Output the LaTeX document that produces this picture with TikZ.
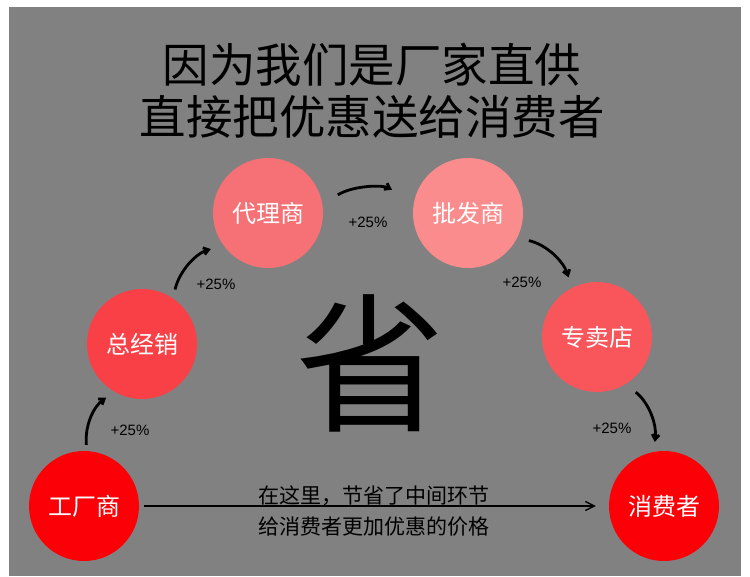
\documentclass[tikz,border=0pt]{standalone}
\usepackage{fontspec}
\newfontfamily\cjk{Noto Sans CJK SC}
\newfontfamily\latinsans{Liberation Sans}
\usetikzlibrary{arrows.meta}

\definecolor{panelgray}{RGB}{130,129,129}
\definecolor{factoryred}{RGB}{252,0,8}
\definecolor{distred}{RGB}{248,64,70}
\definecolor{agentred}{RGB}{246,113,117}
\definecolor{wholesalered}{RGB}{250,140,142}
\definecolor{storered}{RGB}{249,86,92}

\begin{document}
\begin{tikzpicture}[
  x=1pt,y=-1pt,
  stage/.style={circle,minimum size=110pt,inner sep=0pt,text=white,font=\cjk\fontsize{24}{26}\selectfont},
  gain/.style={-{Straight Barb[length=5pt,width=7pt]},line width=2.8pt,bend left=30},
  gainlabel/.style={font=\latinsans\fontsize{15}{17}\selectfont},
  note/.style={font=\cjk\fontsize{21}{23}\selectfont}
]
  \useasboundingbox (0,0) rectangle (750,576);
  \fill[panelgray] (9,7) rectangle (741,576);

  % title
  \node[font=\cjk\fontsize{46.5}{52}\selectfont,align=center] (title) at (372,91)
    {因为我们是厂家直供\\直接把优惠送给消费者};

  % the chain
  \node[stage,fill=factoryred] (factory) at (84,506) {工厂商};
  \node[stage,fill=distred] (dist) at (142,344) {总经销};
  \node[stage,fill=agentred] (agent) at (268,213) {代理商};
  \node[stage,fill=wholesalered] (wholesale) at (468,213) {批发商};
  \node[stage,fill=storered] (store) at (597,337) {专卖店};
  \node[stage,fill=factoryred] (consumer) at (664,506) {消费者};

  \node[font=\cjk\fontsize{150}{150}\selectfont] (save) at (370,363) {省};

  \draw[gain,shorten <=6pt,shorten >=10pt] (factory.87) to (dist.240);
  \draw[gain,shorten <=9pt,shorten >=13pt] (dist.56) to (agent.216);
  \draw[gain,shorten <=18pt,shorten >=25pt] (agent.9) to (wholesale.168);
  \draw[gain,shorten <=12pt,shorten >=11pt] (wholesale.333) to (store.117);
  \draw[gain,shorten <=13pt,shorten >=10pt] (store.301) to (consumer.101);

  \node[gainlabel] (g1) at (130,430) {+25\%};
  \node[gainlabel] (g2) at (216,284) {+25\%};
  \node[gainlabel] (g3) at (368,222) {+25\%};
  \node[gainlabel] (g4) at (522,282) {+25\%};
  \node[gainlabel] (g5) at (612,428) {+25\%};

  % direct route
  \draw[-{Straight Barb[length=9pt,width=9pt]},line width=1.3pt,shorten <=5pt,shorten >=13pt]
    (factory) --
    node[note,above=-4pt] (skip) {在这里，节省了中间环节}
    node[note,below=7pt] (benefit) {给消费者更加优惠的价格}
    (consumer);
\end{tikzpicture}
\end{document}
